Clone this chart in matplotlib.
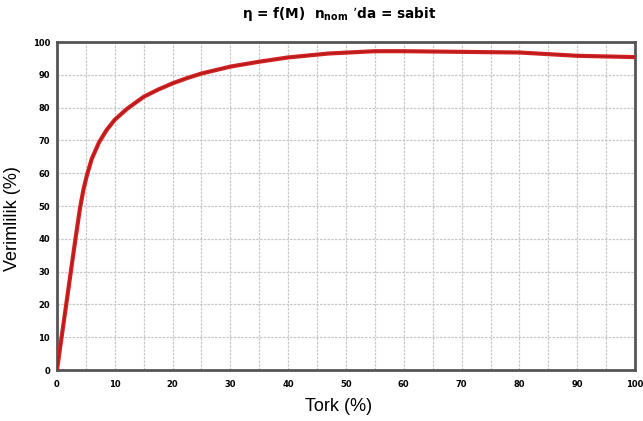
import matplotlib
matplotlib.use('Agg')
import matplotlib.pyplot as plt

# Verimlilik egrisi
tork = [0, 0.8, 1.6, 2.4, 3.2, 4.0, 4.6, 5.2, 6.0, 7.3, 8.6, 10, 12.1, 15, 17.5, 20, 22.5,
        25, 30, 35, 40, 47, 55, 60, 70, 80, 85, 90, 95, 100]
verim = [0, 10, 20, 30, 40, 49.5, 55.2, 59.5, 64.3, 69.5, 73.2, 76.3, 79.6, 83.3, 85.5, 87.4, 89.0,
         90.4, 92.5, 94.0, 95.3, 96.5, 97.2, 97.2, 97.0, 96.8, 96.3, 95.8, 95.6, 95.4]

x_ticks = list(range(0, 101, 10))
y_ticks = list(range(0, 101, 10))

fig = plt.figure(figsize=(6.43, 4.21), dpi=100)
ax = fig.add_axes([0.0886, 0.1211, 0.8990, 0.7791])

ax.plot(tork, verim, color='#d42222', linewidth=3, solid_capstyle='round',
        solid_joinstyle='round', zorder=3)
ax.plot(tork, verim, color='#8a1010', linewidth=0.8, alpha=0.5,
        solid_joinstyle='round', zorder=4)

ax.set_xlim(0, 100)
ax.set_ylim(0, 100)
ax.set_xticks(x_ticks)
ax.set_yticks(y_ticks)
ax.set_xticks(range(5, 100, 10), minor=True)
ax.tick_params(which='both', length=0, labelsize=6)
ax.tick_params(axis='x', pad=7)
ax.tick_params(axis='y', pad=5)
for lab in ax.get_xticklabels() + ax.get_yticklabels():
    lab.set_fontweight('bold')

ax.grid(which='major', color='#c8c8c8', linestyle=(0, (2, 1)), linewidth=0.9)
ax.grid(which='minor', axis='x', color='#c8c8c8', linestyle=(0, (2, 1)), linewidth=0.9)
for s in ax.spines.values():
    s.set_color('#555555')
    s.set_linewidth(2)

ax.set_xlabel('Tork (%)', fontsize=13, family=['Liberation Sans', 'DejaVu Sans'])
ax.set_ylabel('Verimlilik (%)', fontsize=13, family=['Liberation Sans', 'DejaVu Sans'])
ax.xaxis.set_label_coords(0.488, -0.085)
ax.yaxis.set_label_coords(-0.062, 0.463)

fig.text(0.527, 0.966, r"η = f(M)  n$_{\mathbf{nom}}$ ’da = sabit", ha='center', va='center',
         fontsize=9.8, fontweight='bold')

fig.savefig('out.png', dpi=100)
